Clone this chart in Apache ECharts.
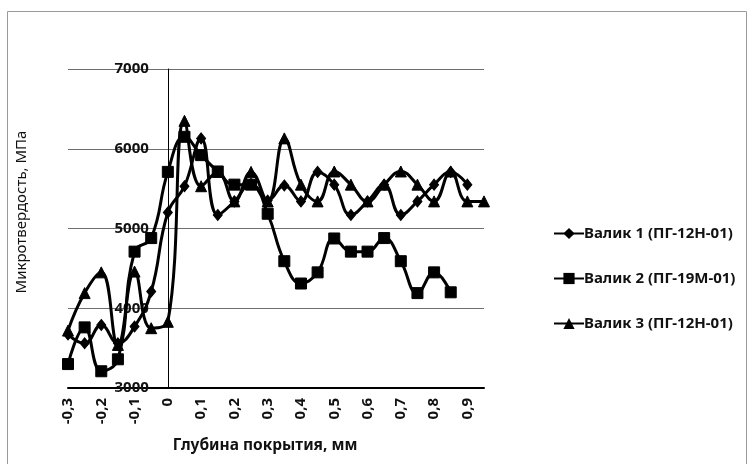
<!DOCTYPE html>
<html>
<head>
<meta charset="utf-8">
<script src="https://cdn.jsdelivr.net/npm/echarts@6/dist/echarts.min.js"></script>
<style>
html,body{margin:0;padding:0;background:#fff;}
#chart{width:750px;height:464px;}
</style>
</head>
<body>
<div id="chart"></div>
<script>
// Depth, mm
const depth = [-0.3,-0.25,-0.2,-0.15,-0.1,-0.05,0,0.05,0.1,0.15,0.2,0.25,0.3,0.35,0.4,0.45,0.5,0.55,0.6,0.65,0.7,0.75,0.8,0.85,0.9,0.95];
// Microhardness, MPa
const valik1 = [3670,3560,3790,3560,3770,4210,5200,5530,6130,5170,5340,5560,5350,5540,5340,5710,5550,5170,5340,5550,5170,5340,5550,5710,5550];
const valik2 = [3300,3760,3210,3360,4710,4880,5710,6150,5920,5715,5550,5550,5185,4590,4310,4450,4875,4710,4710,4880,4590,4190,4450,4200];
const valik3 = [3720,4190,4450,3540,4460,3750,3830,6350,5530,5710,5340,5710,5340,6130,5550,5340,5715,5550,5340,5550,5715,5550,5340,5715,5340,5340];
const seriesNames = ['Валик 1 (ПГ-12Н-01)','Валик 2 (ПГ-19М-01)','Валик 3 (ПГ-12Н-01)'];
const yTicks = {min:3000, max:7000, step:1000};
const xTicks = {min:-0.3, max:0.95, step:0.1};

const pairs = v => v.map((y,i)=>[depth[i], y]);
const font = 'Noto Sans, DejaVu Sans, sans-serif';
const gridL = 68, gridR = 266, W = 750;
const plotW = W - gridL - gridR;
const zeroOffset = (0 - xTicks.min) / (xTicks.max - xTicks.min) * plotW;
const chart = echarts.init(document.getElementById('chart'), null, {renderer:'canvas'});
const mk = (name, vals, symbol, size) => ({
  name, type:'line', data:pairs(vals), smooth:0.45,
  symbol, symbolSize:size, showSymbol:true,
  lineStyle:{color:'#000', width:3},
  itemStyle:{color:'#000', borderColor:'#000'},
  emphasis:{disabled:true}, z:3
});
chart.setOption({
  animation:false,
  backgroundColor:'#fff',
  grid:{left:gridL, right:gridR, top:69, bottom:76, containLabel:false},
  xAxis:{
    type:'value', min:xTicks.min, max:xTicks.max, interval:xTicks.step,
    axisLine:{show:true, onZero:false, lineStyle:{color:'#000', width:2}},
    axisTick:{show:false},
    splitLine:{show:false},
    axisLabel:{rotate:90, margin:10, fontFamily:font, fontSize:15, fontWeight:'bold', color:'#111',
      showMaxLabel:false,
      formatter:v=>String(Math.round(v*10)/10).replace('.',',')}
  },
  yAxis:{
    type:'value', min:yTicks.min, max:yTicks.max, interval:yTicks.step,
    offset:-zeroOffset,
    axisLine:{show:true, onZero:false, lineStyle:{color:'#000', width:1}},
    axisTick:{show:false},
    splitLine:{show:true, lineStyle:{color:'#6e6e6e', width:1}},
    axisLabel:{margin:19, fontFamily:font, fontSize:15, fontWeight:'bold', color:'#111',
      formatter:v=>String(v)}
  },
  legend:{
    orient:'vertical', left:548, top:221, itemGap:30, itemWidth:30, itemHeight:14,
    data:seriesNames,
    textStyle:{fontFamily:font, fontSize:15, fontWeight:'bold', color:'#111', padding:[0,0,0,-5]}
  },
  graphic:[
    {type:'rect', shape:{x:7.5, y:11.5, width:739, height:460}, style:{fill:null, stroke:'#9a9a9a', lineWidth:1}, z:-1},
    {type:'text', x:265, y:446, style:{text:'Глубина покрытия, мм', font:'bold 15.5px '+font, fill:'#111', textAlign:'center', textVerticalAlign:'middle'}},
    {type:'text', x:22, y:212, rotation:Math.PI/2, style:{text:'Микротвердость, МПа', font:'15px '+font, fill:'#111', textAlign:'center', textVerticalAlign:'middle'}}
  ],
  series:[
    mk(seriesNames[0], valik1, 'diamond', [9,11]),
    mk(seriesNames[1], valik2, 'rect', 11),
    mk(seriesNames[2], valik3, 'triangle', 11)
  ]
});
</script>
</body>
</html>
